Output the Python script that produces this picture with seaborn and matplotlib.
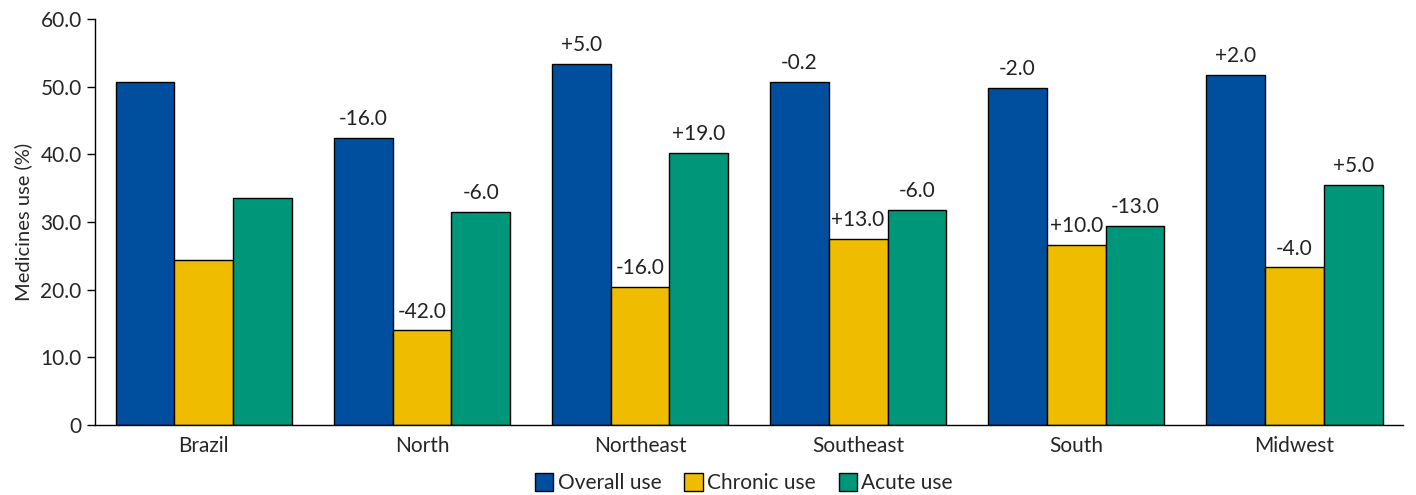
import numpy as np
import pandas as pd
import matplotlib
matplotlib.use("Agg")
import matplotlib.pyplot as plt
import seaborn as sns
from matplotlib.ticker import FixedLocator, FuncFormatter

# data
regions = ["Brazil", "North", "Northeast", "Southeast", "South", "Midwest"]
overall_use = [50.6, 42.4, 53.3, 50.7, 49.8, 51.7]
chronic_use = [24.4, 14.0, 20.4, 27.5, 26.6, 23.3]
acute_use = [33.5, 31.5, 40.2, 31.8, 29.4, 35.5]

# percentage change labels above bars (none for Brazil)
overall_lbl = ["", "-16.0", "+5.0", "-0.2", "-2.0", "+2.0"]
chronic_lbl = ["", "-42.0", "-16.0", "+13.0", "+10.0", "-4.0"]
acute_lbl = ["", "-6.0", "+19.0", "-6.0", "-13.0", "+5.0"]

series = ["Overall use", "Chronic use", "Acute use"]
colors = ["#004f9e", "#f0bc00", "#00967a"]

df = pd.DataFrame({
    "region": regions * 3,
    "type": [s for s in series for _ in regions],
    "value": overall_use + chronic_use + acute_use,
})

sns.set_style("white")
plt.rcParams["font.family"] = ["Lato", "DejaVu Sans"]

fig = plt.figure(figsize=(14.16, 4.95), dpi=100)
ax = fig.add_axes([0.067, 0.141, 0.924, 0.821])

sns.barplot(data=df, x="region", y="value", hue="type", order=regions,
            hue_order=series, palette=colors, edgecolor="black",
            linewidth=1.0, width=0.81, saturation=1, ax=ax)

# annotations
for cont, lbls in zip(ax.containers, [overall_lbl, chronic_lbl, acute_lbl]):
    for bar, txt in zip(cont, lbls):
        if txt:
            ax.text(bar.get_x() + bar.get_width() / 2, bar.get_height() + 1.3, txt,
                    ha="center", va="bottom", fontsize=15, color="#222222")

ax.set_ylim(0, 60)
ax.set_xlim(-0.5, 5.5)
ax.set_yticks(np.arange(0, 61, 10))
ax.yaxis.set_major_formatter(FuncFormatter(lambda v, p: "0" if v == 0 else f"{v:.1f}"))
ax.set_ylabel("Medicines use (%)", fontsize=14.5, labelpad=6)
ax.set_xlabel("")
ax.xaxis.set_minor_locator(FixedLocator(np.arange(-0.5, 6, 1)))
ax.tick_params(axis="x", which="major", length=0, labelsize=15, pad=8)
ax.tick_params(axis="x", which="minor", length=6, width=1, direction="out", color="black")
ax.tick_params(axis="y", length=6, width=1, direction="out", color="black", labelsize=15, left=True)
for s in ["top", "right"]:
    ax.spines[s].set_visible(False)
for s in ["left", "bottom"]:
    ax.spines[s].set_color("black")
    ax.spines[s].set_linewidth(1)

ax.legend(loc="center", bbox_to_anchor=(0.496, -0.143), ncol=3, frameon=False,
          fontsize=15, handlelength=0.9, handleheight=0.9, handletextpad=0.2,
          columnspacing=1.1, borderpad=0)

fig.savefig("out.png", dpi=100)
